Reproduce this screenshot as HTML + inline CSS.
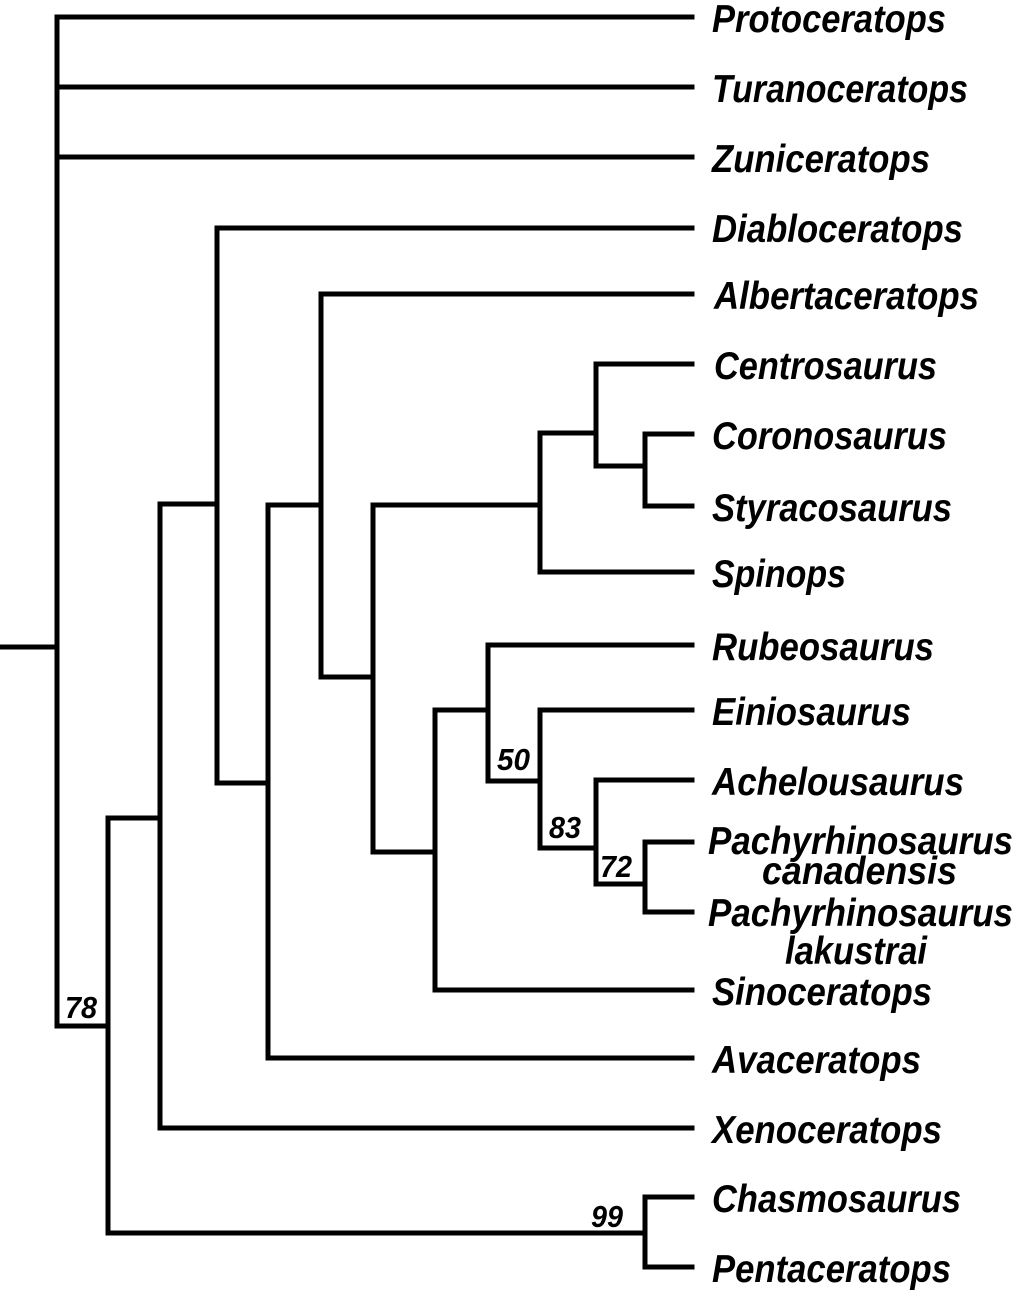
<!DOCTYPE html>
<html><head><meta charset="utf-8"><style>html,body{margin:0;padding:0;background:#fff}svg{display:block}</style></head>
<body>
<svg width="1015" height="1292" viewBox="0 0 1015 1292" xmlns="http://www.w3.org/2000/svg">
<g stroke="#000" stroke-width="5" fill="none" stroke-linecap="square">
<line x1="0" y1="647" x2="57" y2="647"/>
<line x1="57" y1="17" x2="57" y2="1026"/>
<line x1="57" y1="17" x2="692" y2="17"/>
<line x1="57" y1="87" x2="692" y2="87"/>
<line x1="57" y1="157" x2="692" y2="157"/>
<line x1="57" y1="1026" x2="108" y2="1026"/>
<line x1="108" y1="818" x2="108" y2="1233"/>
<line x1="108" y1="1233" x2="645" y2="1233"/>
<line x1="645" y1="1197" x2="645" y2="1267"/>
<line x1="645" y1="1197" x2="692" y2="1197"/>
<line x1="645" y1="1267" x2="692" y2="1267"/>
<line x1="108" y1="818" x2="160" y2="818"/>
<line x1="160" y1="504" x2="160" y2="1128"/>
<line x1="160" y1="1128" x2="692" y2="1128"/>
<line x1="160" y1="504" x2="217" y2="504"/>
<line x1="217" y1="228" x2="217" y2="783"/>
<line x1="217" y1="228" x2="692" y2="228"/>
<line x1="217" y1="783" x2="268" y2="783"/>
<line x1="268" y1="505" x2="268" y2="1058"/>
<line x1="268" y1="1058" x2="692" y2="1058"/>
<line x1="268" y1="505" x2="321" y2="505"/>
<line x1="321" y1="294" x2="321" y2="677"/>
<line x1="321" y1="294" x2="692" y2="294"/>
<line x1="321" y1="677" x2="373" y2="677"/>
<line x1="373" y1="505" x2="373" y2="852"/>
<line x1="373" y1="505" x2="540" y2="505"/>
<line x1="540" y1="433" x2="540" y2="572"/>
<line x1="540" y1="572" x2="692" y2="572"/>
<line x1="540" y1="433" x2="596" y2="433"/>
<line x1="596" y1="364" x2="596" y2="466"/>
<line x1="596" y1="364" x2="692" y2="364"/>
<line x1="596" y1="466" x2="645" y2="466"/>
<line x1="645" y1="434" x2="645" y2="506"/>
<line x1="645" y1="434" x2="692" y2="434"/>
<line x1="645" y1="506" x2="692" y2="506"/>
<line x1="373" y1="852" x2="435" y2="852"/>
<line x1="435" y1="710" x2="435" y2="990"/>
<line x1="435" y1="990" x2="692" y2="990"/>
<line x1="435" y1="710" x2="488" y2="710"/>
<line x1="488" y1="645" x2="488" y2="781"/>
<line x1="488" y1="645" x2="692" y2="645"/>
<line x1="488" y1="781" x2="540" y2="781"/>
<line x1="540" y1="710" x2="540" y2="848"/>
<line x1="540" y1="710" x2="692" y2="710"/>
<line x1="540" y1="848" x2="596" y2="848"/>
<line x1="596" y1="780" x2="596" y2="884"/>
<line x1="596" y1="780" x2="692" y2="780"/>
<line x1="596" y1="884" x2="645" y2="884"/>
<line x1="645" y1="842" x2="645" y2="912"/>
<line x1="645" y1="842" x2="692" y2="842"/>
<line x1="645" y1="912" x2="692" y2="912"/>
</g>
<g font-family="'Liberation Sans Narrow','Liberation Sans',sans-serif" font-weight="bold" font-style="italic" font-size="39" fill="#000">
<text x="712" y="32" textLength="234" lengthAdjust="spacingAndGlyphs">Protoceratops</text>
<text x="712" y="102" textLength="256" lengthAdjust="spacingAndGlyphs">Turanoceratops</text>
<text x="712" y="172" textLength="218" lengthAdjust="spacingAndGlyphs">Zuniceratops</text>
<text x="712" y="242" textLength="251" lengthAdjust="spacingAndGlyphs">Diabloceratops</text>
<text x="714" y="309" textLength="265" lengthAdjust="spacingAndGlyphs">Albertaceratops</text>
<text x="714" y="379" textLength="223" lengthAdjust="spacingAndGlyphs">Centrosaurus</text>
<text x="712" y="449" textLength="235" lengthAdjust="spacingAndGlyphs">Coronosaurus</text>
<text x="712" y="521" textLength="240" lengthAdjust="spacingAndGlyphs">Styracosaurus</text>
<text x="712" y="587" textLength="134" lengthAdjust="spacingAndGlyphs">Spinops</text>
<text x="712" y="660" textLength="222" lengthAdjust="spacingAndGlyphs">Rubeosaurus</text>
<text x="712" y="725" textLength="199" lengthAdjust="spacingAndGlyphs">Einiosaurus</text>
<text x="712" y="795" textLength="252" lengthAdjust="spacingAndGlyphs">Achelousaurus</text>
<text x="708" y="854" textLength="305" lengthAdjust="spacingAndGlyphs">Pachyrhinosaurus</text>
<text x="762" y="884" textLength="195" lengthAdjust="spacingAndGlyphs">canadensis</text>
<text x="708" y="926" textLength="305" lengthAdjust="spacingAndGlyphs">Pachyrhinosaurus</text>
<text x="785" y="964" textLength="142" lengthAdjust="spacingAndGlyphs">lakustrai</text>
<text x="712" y="1005" textLength="220" lengthAdjust="spacingAndGlyphs">Sinoceratops</text>
<text x="712" y="1073" textLength="209" lengthAdjust="spacingAndGlyphs">Avaceratops</text>
<text x="712" y="1143" textLength="230" lengthAdjust="spacingAndGlyphs">Xenoceratops</text>
<text x="712" y="1212" textLength="249" lengthAdjust="spacingAndGlyphs">Chasmosaurus</text>
<text x="712" y="1282" textLength="239" lengthAdjust="spacingAndGlyphs">Pentaceratops</text>
</g>
<g font-family="'Liberation Sans Narrow','Liberation Sans',sans-serif" font-weight="bold" font-style="italic" font-size="31" fill="#000">
<text x="65" y="1018" textLength="32" lengthAdjust="spacingAndGlyphs">78</text>
<text x="497" y="770" textLength="33" lengthAdjust="spacingAndGlyphs">50</text>
<text x="549" y="838" textLength="32" lengthAdjust="spacingAndGlyphs">83</text>
<text x="600" y="877" textLength="32" lengthAdjust="spacingAndGlyphs">72</text>
<text x="591" y="1227" textLength="32" lengthAdjust="spacingAndGlyphs">99</text>
</g>
</svg>
</body></html>
